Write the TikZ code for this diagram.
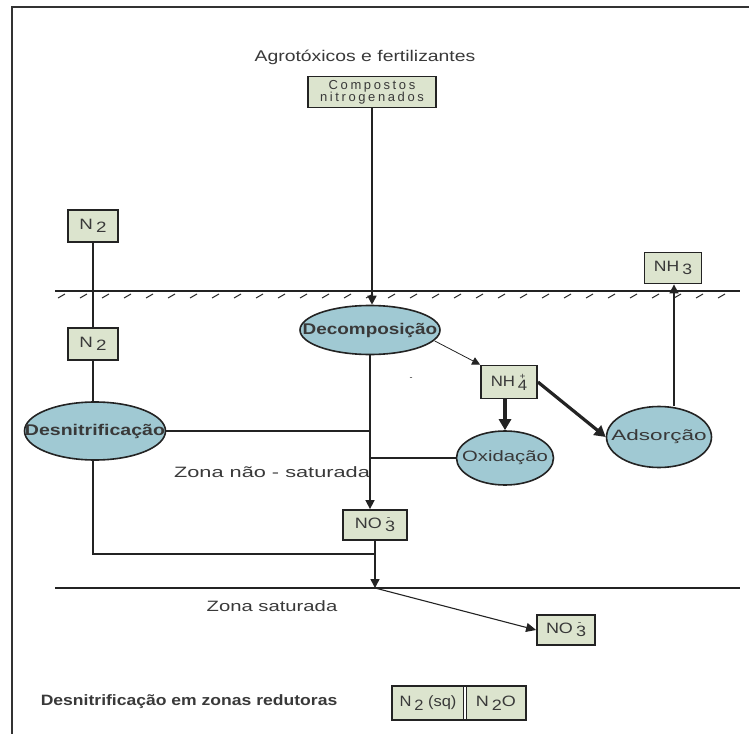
\documentclass[tikz,border=0pt]{standalone}
\usepackage{fontspec}
\setmainfont{Liberation Sans}
\usetikzlibrary{arrows.meta,shapes.geometric}
\definecolor{boxfill}{RGB}{220,228,206}
\definecolor{ellfill}{RGB}{160,201,211}
\definecolor{ink}{RGB}{35,35,35}

% horizontally widened lettering
\newcommand\wide[2][1.4]{\scalebox{#1}[1]{#2}}
% label whose width does not grow its ellipse
\newcommand\blobtext[2][1.4]{\makebox[0pt]{\scalebox{#1}[1]{#2}}}
% subscript set low, as in chemical labels
\newcommand\lowidx[1]{\,\raisebox{-0.45ex}{#1}}
% index with a charge sign stacked above it
\newcommand\ionidx[2]{\,\raisebox{-0.4ex}{\rlap{\raisebox{1.4ex}{\fontsize{9bp}{9bp}\selectfont\,#2}}#1}}

\begin{document}
\begin{tikzpicture}[x=1bp,y=-1bp,
  line width=1.6bp, draw=ink,
  box/.style={draw=ink, line width=1.8bp, fill=boxfill, inner sep=0pt,
    font=\fontsize{15bp}{15bp}\selectfont, text=ink!90},
  blob/.style={ellipse, draw=ink, line width=1.6bp, fill=ellfill, inner sep=0pt,
    font=\fontsize{15bp}{15bp}\selectfont, text=ink!90},
  plain/.style={font=\fontsize{15bp}{15bp}\selectfont, text=ink!90, inner sep=0pt},
  tip/.style={-{Triangle[length=9bp,width=9bp]}},
  bigtip/.style={-{Triangle[length=11bp,width=12bp]}},
]
\useasboundingbox (0,0) rectangle (749,734);

% outer frame (top and left edges only)
\draw[line width=2.6bp, draw=black!80] (12,734) -- (12,7) -- (749,7);

% ground surface with hatching, and the water table
\draw (55,291) -- (740,291);
\foreach \hx in {58,80,...,735}
  \draw[line width=1bp] (\hx,298) -- (\hx+7,294);
\draw (55,588) -- (740,588);

% source
\node[plain, font=\fontsize{15.5bp}{15.5bp}\selectfont] (src) at (365,57) {\wide[1.25]{Agrotóxicos e fertilizantes}};
\node[box, minimum width=128bp, minimum height=31bp, align=center,
  font=\fontsize{13bp}{12bp}\addfontfeature{LetterSpace=20}\selectfont] (comp) at (372,92)
  {Compostos\\[-1bp]nitrogenados};

% process ellipses
\node[blob, minimum width=140bp, minimum height=49bp,
  font=\fontsize{15.5bp}{15.5bp}\bfseries] (decomp) at (370,330)
  {\blobtext[1.22]{Decomposição}};
\node[blob, minimum width=141bp, minimum height=58bp,
  font=\fontsize{15.5bp}{15.5bp}\bfseries] (desn) at (95,431)
  {\blobtext[1.26]{Desnitrificação}};
\node[blob, minimum width=97bp, minimum height=54bp] (oxi) at (505,458) {\blobtext[1.35]{Oxidação}};
\node[blob, minimum width=105bp, minimum height=61bp] (ads) at (659,437) {\blobtext[1.5]{Adsorção}};

% species boxes
\node[box, minimum width=50bp, minimum height=32bp] (n2a) at (93,226) {\wide[1.25]{N\lowidx{2}}};
\node[box, minimum width=50bp, minimum height=32bp] (n2b) at (93,344) {\wide[1.25]{N\lowidx{2}}};
\node[box, minimum width=56bp, minimum height=33bp] (nh4) at (509,382) {\wide[1.12]{NH\ionidx{4}{+}}};
\node[box, minimum width=57bp, minimum height=31bp] (nh3) at (673,268) {\wide[1.17]{NH\lowidx{3}}};
\node[box, minimum width=64bp, minimum height=30bp] (no3a) at (375,525) {\wide[1.2]{NO\ionidx{3}{-}}};
\node[box, minimum width=58bp, minimum height=30bp] (no3b) at (566,630) {\wide[1.2]{NO\ionidx{3}{-}}};

% reducing-zone legend
\node[plain, anchor=west, font=\fontsize{15bp}{15bp}\bfseries] (leg) at (40,702)
  {\wide[1.17]{Desnitrificação em zonas redutoras}};
\node[box, minimum width=72bp, minimum height=34bp] (sq) at (428,703) {\wide[1.1]{N\lowidx{2} (sq)}};
\node[box, minimum width=60bp, minimum height=34bp, anchor=west] (n2o) at (sq.east) {\wide[1.2]{N\lowidx{2}O}};
\draw[draw=white, line width=2.5bp] ([yshift=-2bp]sq.north east) -- ([yshift=2bp]sq.south east);

% zone labels and stray mark
\node[plain] (zns) at (272,472) {\wide[1.45]{Zona não - saturada}};
\node[plain] (zs) at (272,606) {\wide[1.35]{Zona saturada}};
\node[plain, font=\fontsize{9bp}{9bp}\selectfont] (dot) at (411,379) {-};

% junctions on the nitrate trunk
\coordinate (j1) at (decomp.south |- desn.east);
\coordinate (j2) at (decomp.south |- oxi.west);
\coordinate (j3) at (93,554);
\coordinate (wt) at (no3a.south |- 0,588);

% connectors
\draw[tip] (comp.south) -- (comp.south |- decomp.north);
\draw (n2a) -- (n2b);
\draw (n2b) -- (n2b.south |- desn.north);
\draw[tip] (decomp.south) -- (decomp.south |- no3a.north);
\draw (desn.east) -- (j1);
\draw (oxi.west) -- (j2);
\draw (desn.south -| j3) -- (j3) -- (j3 -| no3a.south);
\draw[tip] (no3a.south) -- (wt);
\draw[-{Triangle[length=10bp,width=9bp]}, line width=1.1bp] (wt) -- (no3b.west);
\draw[-{Triangle[length=8bp,width=8bp]}, line width=0.8bp] (decomp.east) ++(-6,11) -- (nh4.north west);
\draw[bigtip, line width=3.6bp] (nh4.south -| oxi.north) -- (oxi.north);
\draw[bigtip, line width=3.2bp] (nh4.east) -- (ads.west);
\draw[tip] (ads.north -| 674,0) -- (nh3.south -| 674,0);
\end{tikzpicture}
\end{document}
